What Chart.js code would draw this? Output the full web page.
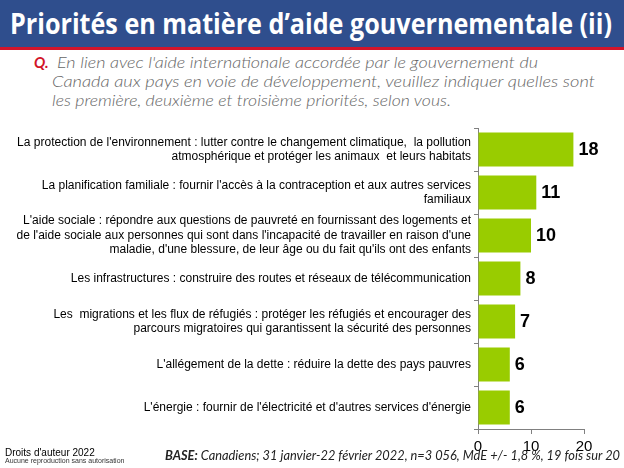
<!DOCTYPE html>
<html><head><meta charset="utf-8">
<script src="https://cdn.jsdelivr.net/npm/chart.js@4/dist/chart.umd.min.js"></script>
<style>
body{margin:0;width:624px;height:468px;position:relative;overflow:hidden;background:#fff;font-family:'Liberation Sans',Arial,sans-serif}
#hdr{position:absolute;left:0;top:0;width:624px;height:47px;background:#2F4E8D}
#red{position:absolute;left:0;top:47px;width:624px;height:3px;background:#D2142A}
.fit{position:absolute;white-space:nowrap;transform-origin:0 0}
#title{left:10px;top:4px;color:#fff;font:bold 28px 'Open Sans',sans-serif}
#q{left:34px;top:53px;color:#D2142A;font:italic bold 15px 'Lato',sans-serif}
.ql{color:#666;font:italic 300 15.5px 'Lato',sans-serif}
#c{position:absolute;left:0;top:115px}
#cp1{position:absolute;left:5px;top:447px;font:10px 'Liberation Sans',Arial,sans-serif;color:#000}
#cp2{position:absolute;left:5px;top:457px;font:7px 'Liberation Sans',Arial,sans-serif;color:#333}
#base{font:italic 12.5px 'Lato',sans-serif;color:#222}
</style></head><body>
<div id="hdr"></div><div id="red"></div>
<div id="title" class="fit" data-w="602">Priorités en matière d’aide gouvernementale (ii)</div>
<div id="q" class="fit">Q.</div>
<div class="fit ql" style="left:57px;top:53px" data-w="481">En lien avec l'aide internationale accordée par le gouvernement du</div>
<div class="fit ql" style="left:52px;top:72px" data-w="543">Canada aux pays en voie de développement, veuillez indiquer quelles sont</div>
<div class="fit ql" style="left:52px;top:91px" data-w="399">les première, deuxième et troisième priorités, selon vous.</div>
<canvas id="c" width="624" height="353"></canvas>
<div id="cp1">Droits d'auteur 2022</div>
<div id="cp2">Aucune reproduction sans autorisation</div>
<div id="base" class="fit" style="left:165px;top:448px" data-w="455"><b>BASE:</b> Canadiens; 31 janvier-22 février 2022, n=3 056, MdE +/- 1,8 %, 19 fois sur 20</div>
<script>
const categories = [
  ["La protection de l'environnement : lutter contre le changement climatique,  la pollution", "atmosphérique et protéger les animaux  et leurs habitats"],
  ["La planification familiale : fournir l'accès à la contraception et aux autres services", "familiaux"],
  ["L'aide sociale : répondre aux questions de pauvreté en fournissant des logements et", "de l'aide sociale aux personnes qui sont dans l'incapacité de travailler en raison d'une", "maladie, d'une blessure, de leur âge ou du fait qu'ils ont des enfants"],
  ["Les infrastructures : construire des routes et réseaux de télécommunication"],
  ["Les  migrations et les flux de réfugiés : protéger les réfugiés et encourager des", "parcours migratoires qui garantissent la sécurité des personnes"],
  ["L'allégement de la dette : réduire la dette des pays pauvres"],
  ["L'énergie : fournir de l'électricité et d'autres services d'énergie"]
];
const values = [18, 11, 10, 8, 7, 6, 6];
const xTicks = [0, 10, 20];

document.querySelectorAll('.fit[data-w]').forEach(el => {
  const w = el.getBoundingClientRect().width;
  el.style.transform = 'scaleX(' + (parseFloat(el.dataset.w) / w) + ')';
});

const valueLabels = {
  id: 'valueLabels',
  afterDatasetsDraw(chart) {
    const ctx = chart.ctx;
    ctx.save();
    ctx.font = 'bold 18px "Liberation Sans", Arial, sans-serif';
    ctx.fillStyle = '#000';
    ctx.textBaseline = 'middle';
    ctx.textAlign = 'left';
    chart.getDatasetMeta(0).data.forEach((bar, i) => {
      ctx.fillText(String(values[i]), bar.x + 5, bar.y + 1);
    });
    ctx.restore();
  }
};

new Chart(document.getElementById('c'), {
  type: 'bar',
  data: {
    labels: categories,
    datasets: [{
      data: values,
      backgroundColor: '#99CC00',
      borderWidth: 0,
      barPercentage: 0.79,
      categoryPercentage: 1
    }]
  },
  options: {
    indexAxis: 'y',
    responsive: false,
    animation: false,
    layout: { padding: { top: 13, right: 40, left: 0, bottom: 0 } },
    plugins: { legend: { display: false }, tooltip: { enabled: false } },
    scales: {
      x: {
        min: 0, max: 20,
        afterBuildTicks(scale) { scale.ticks = xTicks.map(v => ({ value: v })); },
        afterFit(scale) { scale.height = 39; },
        ticks: { color: '#000', font: { size: 15, family: "'Liberation Sans', Arial, sans-serif" }, padding: 4, maxRotation: 0 },
        grid: { drawOnChartArea: false, drawTicks: true, tickLength: 5, color: '#808080' },
        border: { color: '#808080' }
      },
      y: {
        afterFit(scale) { scale.width = 478; },
        ticks: { color: '#000', font: { size: 12, family: "'Liberation Sans', Arial, sans-serif" }, padding: 3, autoSkip: false },
        grid: { offset: true, drawOnChartArea: false, drawTicks: true, tickLength: 4, color: '#808080' },
        border: { color: '#808080' }
      }
    }
  },
  plugins: [valueLabels]
});
</script>
</body></html>
